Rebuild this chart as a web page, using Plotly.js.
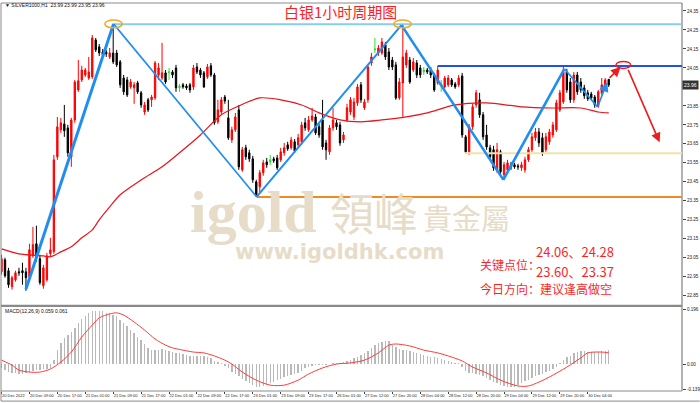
<!DOCTYPE html>
<html><head><meta charset="utf-8">
<script src="https://cdn.plot.ly/plotly-3.0.1.min.js"></script>
<style>html,body{margin:0;padding:0;background:#fff;}#chart{width:700px;height:403px;}</style>
</head><body><div id="chart"></div>
<script>
// ---------- DATA ----------
const open = [
22.976,23.039,22.982,22.898,22.934,22.976,22.982,22.976,22.950,23.060,
23.124,23.045,22.903,22.934,23.071,23.082,23.582,23.724,23.755,23.734,
23.582,23.776,23.934,23.987,24.013,23.997,24.003,24.197,24.161,24.134,
24.134,24.108,24.129,24.129,24.082,23.997,23.987,23.950,23.945,23.971,
23.919,23.818,23.882,23.882,23.892,24.013,23.997,24.024,24.024,24.029,
24.050,23.945,23.961,23.955,23.961,23.950,24.055,24.039,24.024,24.003,
24.061,24.013,23.766,23.818,23.897,23.787,23.671,23.724,23.829,23.513,
23.629,23.603,23.571,23.450,23.424,23.498,23.555,23.555,23.571,23.576,
23.566,23.603,23.645,23.629,23.661,23.645,23.661,23.761,23.724,23.776,
23.792,23.740,23.776,23.655,23.608,23.734,23.761,23.750,23.671,23.776,
23.818,23.792,23.866,23.961,23.840,23.882,24.076,24.145,24.129,24.129,
24.171,24.134,24.092,24.066,23.892,23.971,24.066,24.092,24.039,24.076,
24.050,24.029,24.039,24.039,24.013,23.971,23.955,23.950,23.961,23.987,
23.966,23.961,24.008,23.687,23.608,23.740,23.855,23.882,23.803,23.697,
23.629,23.619,23.513,23.608,23.487,23.513,23.540,23.540,23.534,23.524,
23.513,23.566,23.619,23.682,23.713,23.682,23.619,23.661,23.697,23.724,
23.829,23.871,24.029,23.976,23.882,24.013,23.976,23.945,23.919,23.913,
23.897,23.850,23.919,23.955,23.990];
const high = [
23.066,23.050,22.997,22.955,22.982,22.997,23.024,22.997,23.124,23.213,
23.219,23.066,23.013,23.076,23.155,23.592,23.792,23.787,23.855,23.750,
23.787,23.987,24.092,24.061,24.050,24.108,24.224,24.208,24.176,24.150,
24.145,24.155,24.276,24.145,24.092,24.013,24.003,23.992,23.976,23.982,
23.929,23.871,23.892,23.908,24.087,24.076,24.182,24.039,24.050,24.039,
24.066,23.966,23.971,23.966,23.971,24.066,24.076,24.050,24.034,24.071,
24.076,24.024,23.882,23.897,23.908,23.882,23.740,23.813,23.855,23.634,
23.645,23.619,23.587,23.461,23.513,23.566,23.576,23.592,23.582,23.592,
23.629,23.655,23.661,23.687,23.676,23.703,23.766,23.787,23.797,23.840,
23.808,23.755,23.882,23.671,23.750,23.840,23.776,23.766,23.713,23.861,
23.897,23.892,23.966,23.976,23.887,24.071,24.129,24.208,24.171,24.208,
24.187,24.155,24.108,24.082,23.997,24.276,24.145,24.108,24.103,24.092,
24.066,24.055,24.050,24.055,24.024,24.061,23.987,24.008,24.013,23.997,
23.976,24.013,24.024,23.697,23.755,23.861,23.934,23.919,23.818,23.750,
23.645,23.640,23.655,23.619,23.555,23.566,23.555,23.550,23.545,23.555,
23.582,23.634,23.708,23.734,23.734,23.708,23.708,23.729,23.766,23.882,
23.934,24.055,24.045,23.997,24.029,24.029,23.997,23.961,23.934,23.924,
23.908,23.934,23.997,23.997,23.990];
const low = [
22.961,22.945,22.892,22.882,22.924,22.955,22.908,22.876,22.924,23.050,
23.029,22.908,22.887,22.924,23.055,23.071,23.566,23.708,23.687,23.582,
23.529,23.761,23.924,23.976,24.003,23.987,23.992,24.134,24.113,24.108,
24.108,24.097,24.071,24.055,23.945,23.908,23.897,23.940,23.861,23.913,
23.840,23.803,23.818,23.845,23.882,23.987,23.987,23.966,23.987,23.997,
23.924,23.924,23.940,23.934,23.919,23.934,24.018,23.997,23.945,23.992,
24.003,23.750,23.755,23.808,23.861,23.671,23.655,23.713,23.513,23.503,
23.566,23.555,23.445,23.371,23.397,23.482,23.524,23.540,23.550,23.513,
23.555,23.587,23.613,23.619,23.603,23.629,23.645,23.719,23.713,23.766,
23.697,23.682,23.619,23.566,23.592,23.719,23.724,23.640,23.655,23.766,
23.803,23.776,23.850,23.866,23.829,23.866,24.061,24.129,24.113,24.119,
24.092,24.039,24.039,23.882,23.882,23.792,24.050,23.966,24.029,23.997,
23.997,24.013,24.018,23.997,23.924,23.961,23.924,23.940,23.950,23.950,
23.940,23.950,23.682,23.597,23.592,23.724,23.840,23.787,23.671,23.619,
23.566,23.508,23.498,23.482,23.461,23.498,23.513,23.519,23.513,23.508,
23.498,23.555,23.608,23.666,23.634,23.587,23.608,23.645,23.682,23.713,
23.818,23.861,23.919,23.866,23.866,23.908,23.919,23.887,23.876,23.882,
23.840,23.840,23.908,23.945,23.950];
const close = [
23.045,22.955,22.908,22.945,22.971,22.971,22.971,22.945,23.092,23.119,
23.050,22.919,22.997,23.060,23.092,23.566,23.740,23.761,23.719,23.603,
23.776,23.976,23.982,24.039,24.039,24.029,24.208,24.145,24.129,24.119,
24.124,24.129,24.082,24.066,23.961,23.924,23.908,23.976,23.961,23.924,
23.855,23.855,23.829,23.897,24.076,24.050,24.024,23.976,24.029,24.013,
23.945,23.955,23.950,23.945,23.934,24.050,24.029,24.013,23.950,24.055,
24.013,23.761,23.829,23.882,23.876,23.682,23.724,23.792,23.529,23.619,
23.582,23.571,23.461,23.382,23.498,23.550,23.540,23.566,23.561,23.524,
23.608,23.629,23.624,23.671,23.613,23.682,23.750,23.734,23.776,23.797,
23.708,23.697,23.634,23.619,23.734,23.776,23.740,23.655,23.697,23.840,
23.882,23.871,23.950,23.882,23.871,24.055,24.108,24.150,24.155,24.187,
24.108,24.055,24.055,23.892,23.976,24.108,24.129,23.976,24.082,24.013,
24.013,24.039,24.029,24.013,23.934,24.039,23.966,23.997,23.997,23.961,
23.950,23.997,23.697,23.608,23.740,23.845,23.919,23.803,23.687,23.634,
23.582,23.524,23.619,23.503,23.540,23.550,23.529,23.529,23.529,23.540,
23.566,23.619,23.687,23.713,23.655,23.603,23.687,23.713,23.750,23.866,
23.919,24.029,23.934,23.882,24.013,23.924,23.934,23.903,23.887,23.892,
23.855,23.924,23.961,23.987,23.960];
// bars drawn as doji (green) in the reference
const dojiBars = [48, 51, 77, 107, 121, 126];

// red moving average, read at sample bars
const maBars = [0,5,12,14,17,20,23,26,28,31,34,40,46,51,57,63,68,74,80,86,91,97,103,109,116,122,130,139,149,158,166,171,174];
const maVals = [23.097,23.071,23.060,23.055,23.081,23.108,23.155,23.197,23.250,23.318,23.382,23.460,23.529,23.603,23.697,23.803,23.850,23.892,23.882,23.855,23.813,23.776,23.766,23.776,23.792,23.813,23.855,23.866,23.845,23.839,23.839,23.818,23.813];

// MACD histogram (one per bar) and signal line
const macdHist = [
-0.015,-0.022,-0.029,-0.033,-0.033,-0.036,-0.036,-0.033,-0.029,-0.025,
-0.022,-0.022,-0.018,-0.018,-0.015,0.015,0.051,0.076,0.094,0.105,
0.116,0.131,0.149,0.163,0.174,0.182,0.189,0.192,0.192,0.189,
0.185,0.182,0.178,0.171,0.160,0.149,0.138,0.123,0.113,0.098,
0.087,0.073,0.058,0.051,0.051,0.051,0.054,0.051,0.047,0.044,
0.040,0.040,0.036,0.033,0.029,0.029,0.029,0.029,0.029,0.025,
0.022,0.011,0.007,0.002,-0.007,-0.015,-0.029,-0.036,-0.044,-0.054,
-0.062,-0.069,-0.076,-0.083,-0.083,-0.080,-0.073,-0.069,-0.065,-0.058,
-0.054,-0.047,-0.044,-0.040,-0.036,-0.033,-0.025,-0.015,-0.011,-0.007,
-0.004,-0.004,-0.002,-0.002,0.001,0.002,0.004,0.005,0.007,0.011,
0.015,0.022,0.025,0.033,0.040,0.047,0.058,0.069,0.076,0.080,
0.083,0.083,0.069,0.062,0.054,0.051,0.049,0.047,0.044,0.040,
0.036,0.033,0.029,0.025,0.024,0.022,0.018,0.015,0.011,0.007,
0.004,0.004,-0.010,-0.025,-0.033,-0.033,-0.036,-0.040,-0.044,-0.051,
-0.058,-0.065,-0.069,-0.076,-0.080,-0.083,-0.083,-0.082,-0.076,-0.069,
-0.062,-0.058,-0.051,-0.044,-0.040,-0.036,-0.029,-0.024,-0.018,-0.009,
0.004,0.016,0.025,0.029,0.040,0.044,0.047,0.047,0.044,0.042,
0.042,0.044,0.046,0.048,0.050];
const sigBars = [0,3,5,8,11,14,17,20,23,26,28,31,33,35,38,41,44,47,49,52,55,58,61,64,66,69,73,77,81,85,88,92,96,100,104,108,111,113,117,121,125,129,132,135,139,143,148,151,154,158,162,166,168,172,174];
const sigVals = [0.014,-0.004,-0.022,-0.029,-0.029,-0.018,0.007,0.043,0.097,0.140,0.166,0.180,0.184,0.176,0.151,0.122,0.090,0.068,0.058,0.050,0.043,0.040,0.029,0.014,0.0,-0.029,-0.058,-0.076,-0.076,-0.058,-0.036,-0.014,0.0,0.004,0.014,0.040,0.068,0.072,0.065,0.050,0.040,0.025,0.011,-0.011,-0.032,-0.058,-0.079,-0.079,-0.065,-0.040,-0.011,0.022,0.040,0.043,0.040];

// axis labels
const timeTickBars = [0,8,16,24,32,40,48,56,64,72,80,88,96,104,112,120,128,136,144,152,160,168];
const timeTickText = ["20 Dec 2022","20 Dec 09:00","20 Dec 17:00","21 Dec 01:00","21 Dec 09:00","21 Dec 17:00","22 Dec 01:00","22 Dec 09:00","22 Dec 17:00","23 Dec 01:00","23 Dec 09:00","23 Dec 17:00","26 Dec 01:00","27 Dec 12:00","27 Dec 20:00","28 Dec 04:00","28 Dec 12:00","28 Dec 20:00","29 Dec 04:00","29 Dec 12:00","29 Dec 20:00","30 Dec 04:00"];
const priceTicks = [22.85,22.95,23.05,23.15,23.25,23.35,23.45,23.55,23.65,23.75,23.85,24.05,24.15,24.25,24.35];
const macdTickVals = [0.196, 0, -0.09];
const macdTickText = ["0.196","0.00","-0.139"];

// drawn analysis: zigzag, levels, markers
const zigBars = [7, 32.1, 73.1, 114.6, 143.8, 161.3, 170.8];
const zigPrices = [22.885, 24.282, 23.371, 24.276, 23.461, 24.045, 23.845];
const levelPrices = [24.28, 24.06, 23.60, 23.37];
const levelFromBar = [32.1, 125, 132.7, 73.1];
const markBars = [32.1, 114.9, 178.2];
const markPrices = [24.282, 24.282, 24.066];
const arrowFrom = [[170.8, 23.845], [173.8, 23.99], [179.4, 24.048]];
const arrowTo = [[173.6, 23.976], [177.4, 24.055], [188.6, 23.658]];
const lastPrice = 23.96;

// ---------- STYLE ----------
const zigWidths = [3, 1.6, 2, 2.4, 2.6, 1.6];
const levelColors = ['#86cdee', '#2250ee', '#f1e3a6', '#f08a22'];
const markColors = ['#f5a81c', '#f5a81c', '#ee1c1c'];
const markW = [5, 5, 4.2];
const markH = [0.042, 0.042, 0.037];
const arrowColors = ['#1f8ef0', '#ee1c1c', '#ee1c1c'];
const zigColor = '#1f8ef0';

const bars = open.map((_, i) => i);
const isDoji = i => dojiBars.indexOf(i) >= 0;
const pick = (arr, keepDoji) => bars.filter(i => isDoji(i) === keepDoji).map(i => arr[i]);
const normBars = bars.filter(i => !isDoji(i));
const dBars = bars.filter(i => isDoji(i));

const traces = [
  {type:'scatter', mode:'lines', x: maBars, y: maVals, xaxis:'x', yaxis:'y',
   line:{color:'#e8141c', width:1.2, shape:'spline', smoothing:0.8}, hoverinfo:'skip'},
  {type:'candlestick', x: normBars, open: pick(open,false), high: pick(high,false), low: pick(low,false), close: pick(close,false),
   xaxis:'x', yaxis:'y', whiskerwidth:0,
   increasing:{line:{color:'#ff0000', width:1}, fillcolor:'#ff0000'},
   decreasing:{line:{color:'#000000', width:1}, fillcolor:'#000000'}, hoverinfo:'skip'},
  {type:'candlestick', x: dBars, open: pick(open,true), high: pick(high,true), low: pick(low,true), close: pick(close,true),
   xaxis:'x', yaxis:'y', whiskerwidth:0,
   increasing:{line:{color:'#33dd33', width:1}, fillcolor:'#33dd33'},
   decreasing:{line:{color:'#33dd33', width:1}, fillcolor:'#33dd33'}, hoverinfo:'skip'},
  {type:'bar', x: bars, y: macdHist, xaxis:'x', yaxis:'y2', width:0.4,
   marker:{color:'#b9b9b9', line:{width:0}}, hoverinfo:'skip'},
  {type:'scatter', mode:'lines', x: sigBars, y: sigVals, xaxis:'x', yaxis:'y2',
   line:{color:'#ff3b3b', width:1, shape:'spline', smoothing:0.8}, hoverinfo:'skip'}
];

const shapes = [];
// frame (paper coords)
const frame = '#8a8a8a';
shapes.push({type:'line', xref:'paper', yref:'paper', x0:0, x1:0, y0:-0.026, y1:1, line:{color:frame, width:1}});
shapes.push({type:'line', xref:'paper', yref:'paper', x0:0, x1:1, y0:1, y1:1, line:{color:frame, width:1}});
shapes.push({type:'line', xref:'paper', yref:'paper', x0:1, x1:1, y0:0, y1:1, line:{color:'#666', width:1}});
shapes.push({type:'rect', xref:'paper', yref:'paper', x0:0, x1:1, y0:0.2165, y1:0.2225, fillcolor:'#8a8a8a', line:{width:0}});
shapes.push({type:'line', xref:'paper', yref:'paper', x0:0, x1:1, y0:0, y1:0, line:{color:frame, width:1}});
shapes.push({type:'line', xref:'paper', yref:'paper', x0:0, x1:1.026, y0:-0.026, y1:-0.026, line:{color:frame, width:1}});
// levels
levelPrices.forEach((p, k) => shapes.push({type:'line', xref:'x', yref:'y', x0: levelFromBar[k], x1: 195, y0: p, y1: p,
  line:{color: levelColors[k], width: 2}}));
// zigzag
for (let k = 0; k < zigBars.length - 1; k++) {
  shapes.push({type:'line', xref:'x', yref:'y', x0: zigBars[k], y0: zigPrices[k], x1: zigBars[k+1], y1: zigPrices[k+1],
    line:{color: zigColor, width: zigWidths[k]}});
}
// ellipses
markBars.forEach((b, k) => shapes.push({type:'circle', xref:'x', yref:'y',
  x0: b - markW[k]/2, x1: b + markW[k]/2, y0: markPrices[k] - markH[k]/2, y1: markPrices[k] + markH[k]/2,
  line:{color: markColors[k], width: 1.5}}));

const px = v => (v - 1) / 681;      // helper: pixel -> paper x
const py = v => (391 - v) / 388;    // helper: pixel -> paper y
const red = '#ff1f1f';
const cjk = '"Noto Sans CJK SC", sans-serif';
const annotations = [
  {xref:'paper', yref:'paper', x: px(3), y: py(5.5), xanchor:'left', yanchor:'middle', showarrow:false,
   text:'\u25BC SILVER1000,H1  23.99 23.99 23.95 23.96', font:{family:'Liberation Sans', size:5, color:'#111'}},
  {xref:'paper', yref:'paper', x: px(3), y: py(311), xanchor:'left', yanchor:'middle', showarrow:false,
   text:'MACD(12,26,9) 0.059 0.061', font:{family:'Liberation Sans', size:5, color:'#111'}},
  {xref:'paper', yref:'paper', x: px(340), y: py(11.5), xanchor:'center', yanchor:'middle', showarrow:false,
   text:'白银1小时周期图', font:{family:cjk, size:15, color:red}},
  // watermark
  {xref:'paper', yref:'paper', x: px(253), y: py(212), xanchor:'center', yanchor:'middle', showarrow:false,
   text:'<b>igold</b>', font:{family:'Liberation Serif', size:60, color:'#e6dcc8'}},
  {xref:'paper', yref:'paper', x: px(374), y: py(212), xanchor:'center', yanchor:'middle', showarrow:false,
   text:'領峰', font:{family:'"Noto Sans CJK TC"', size:44, color:'#e6dcc8'}},
  {xref:'paper', yref:'paper', x: px(466), y: py(217), xanchor:'center', yanchor:'middle', showarrow:false,
   text:'貴金屬', font:{family:'"Noto Sans CJK TC"', size:29, color:'#e6dcc8'}},
  {xref:'paper', yref:'paper', x: px(339), y: py(252), xanchor:'center', yanchor:'middle', showarrow:false,
   text:'<b>www.igoldhk.com</b>', font:{family:'DejaVu Sans', size:21, color:'#e6dcc8'}},
  // key text
  {xref:'paper', yref:'paper', x: px(575), y: py(252), xanchor:'center', yanchor:'middle', showarrow:false,
   text:'24.06、24.28', font:{family:cjk, size:13, color:red}},
  {xref:'paper', yref:'paper', x: px(478), y: py(264), xanchor:'left', yanchor:'middle', showarrow:false,
   text:'关键点位：', font:{family:cjk, size:12, color:red}},
  {xref:'paper', yref:'paper', x: px(575), y: py(271.5), xanchor:'center', yanchor:'middle', showarrow:false,
   text:'23.60、23.37', font:{family:cjk, size:13, color:red}},
  {xref:'paper', yref:'paper', x: px(478), y: py(288), xanchor:'left', yanchor:'middle', showarrow:false,
   text:'今日方向：建议逢高做空', font:{family:cjk, size:12, color:red}},
  // last price tag
  {xref:'paper', yref:'y', x: 1, y: lastPrice, xanchor:'left', yanchor:'middle', showarrow:false,
   text: lastPrice.toFixed(2), bgcolor:'#333', borderpad:1, font:{family:'Liberation Sans', size:5, color:'#fff'}}
];
arrowFrom.forEach((f, k) => annotations.push({xref:'x', yref:'y', axref:'x', ayref:'y',
  x: arrowTo[k][0], y: arrowTo[k][1], ax: f[0], ay: f[1], text:'', showarrow:true,
  arrowhead:2, arrowsize:1.2, arrowwidth:1.6, arrowcolor: arrowColors[k]}));

const tickFont = {family:'Liberation Sans', size:4.6, color:'#222'};
const layout = {
  width:700, height:403,
  margin:{l:1, r:18, t:3, b:12, pad:0},
  paper_bgcolor:'#ffffff', plot_bgcolor:'#ffffff',
  showlegend:false, boxgap:0.45, bargap:0,
  xaxis:{domain:[0,1], range:[-0.15,195], anchor:'y2', showgrid:false, zeroline:false, showline:false,
    tickmode:'array', tickvals: timeTickBars, ticktext: timeTickText, ticks:'outside', ticklen:2, tickcolor:'#444',
    tickangle:0, ticklabelposition:'outside right', tickfont:{family:'Liberation Sans', size:4, color:'#222'},
    rangeslider:{visible:false}, fixedrange:true},
  yaxis:{domain:[0.2225,1], range:[22.803,24.392], side:'right', anchor:'x', showgrid:false, zeroline:false,
    tickmode:'array', tickvals: priceTicks, ticktext: priceTicks.map(v => v.toFixed(2)),
    ticks:'outside', ticklen:3, tickcolor:'#444', tickfont: tickFont, fixedrange:true},
  yaxis2:{domain:[0,0.2165], range:[-0.097,0.205], side:'right', anchor:'x', showgrid:false, zeroline:false,
    tickmode:'array', tickvals: macdTickVals, ticktext: macdTickText,
    ticks:'outside', ticklen:3, tickcolor:'#444', tickfont: tickFont, fixedrange:true},
  shapes: shapes, annotations: annotations
};
Plotly.newPlot('chart', traces, layout, {staticPlot:true, displayModeBar:false});
</script>
</body></html>
